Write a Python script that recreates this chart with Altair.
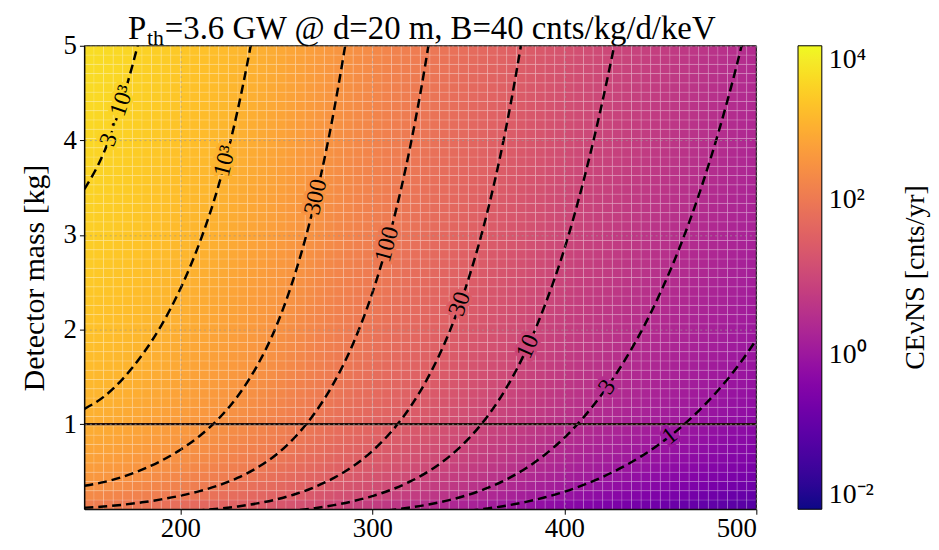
import altair as alt
import numpy as np
import pandas as pd

SERIF = "Liberation Serif"

# ---- data -----------------------------------------------------------------
# threshold columns (left edges, width 5) and log10 of the CEvNS rate
# [counts / kg / yr] at the centre of each column
col_left = list(range(150, 500, 5))
col_width = 5
log_rate_cells = [2.924, 2.901, 2.875, 2.845, 2.813, 2.779, 2.744, 2.708, 2.671, 2.633,
                  2.594, 2.555, 2.514, 2.473, 2.430, 2.385, 2.339, 2.292, 2.243, 2.193,
                  2.141, 2.088, 2.034, 1.979, 1.925, 1.870, 1.815, 1.760, 1.705, 1.650,
                  1.595, 1.540, 1.485, 1.430, 1.375, 1.320, 1.265, 1.210, 1.156, 1.101,
                  1.047, 0.992, 0.938, 0.884, 0.830, 0.777, 0.724, 0.671, 0.620, 0.570,
                  0.520, 0.471, 0.424, 0.377, 0.332, 0.288, 0.245, 0.202, 0.161, 0.120,
                  0.079, 0.040, 0.001, -0.038, -0.076, -0.113, -0.150, -0.187, -0.223, -0.259]

# detector-mass rows
n_rows = 50
row_edges = np.linspace(0.1, 5.0, n_rows + 1)

# log10 rate sampled every 10 units, used for the iso-count lines
line_x = list(range(150, 501, 10))
log_rate_line = [2.935, 2.890, 2.830, 2.762, 2.690, 2.614, 2.535, 2.452, 2.363, 2.268,
                 2.168, 2.061, 1.952, 1.842, 1.732, 1.622, 1.512, 1.402, 1.292, 1.183,
                 1.074, 0.965, 0.857, 0.750, 0.645, 0.545, 0.447, 0.354, 0.266, 0.181,
                 0.099, 0.020, -0.057, -0.132, -0.205, -0.277]

levels = [1, 3, 10, 30, 100, 300, 1000, 3000]

label_text = ["1", "3", "10", "30", "100", "300", "10³", "3 · 10³"]
label_level = [1, 3, 10, 30, 100, 300, 1000, 3000]
label_x = [455, 422.3, 381, 345.6, 307.7, 270.6, 223.3, 167]
label_m = [0.872, 1.39, 1.82, 2.27, 2.90, 3.40, 3.78, 4.26]
label_angle = [322, 305, 294, 289, 285, 283, 284, 289]

cb_values = [0.01, 1, 100, 10000]

title_main = "P"
title_sub = "th"
title_rest = "=3.6 GW @ d=20 m, B=40 cnts/kg/d/keV"

# ---- tables -----------------------------------------------------------------
cells = []
for x0, lr in zip(col_left, log_rate_cells):
    rate = 10 ** lr
    for j in range(n_rows):
        m0, m1 = float(row_edges[j]), float(row_edges[j + 1])
        cells.append({"x": x0, "x1": x0 + col_width, "m": m0, "m1": m1,
                      "count": rate * (m0 + m1) / 2})
cells_df = pd.DataFrame(cells)

cont = []
for lev in levels:
    for x, lr in zip(line_x, log_rate_line):
        m = lev / 10 ** lr
        if 0.02 <= m <= 20:
            cont.append({"x": x, "m": m, "level": lev})
cont_df = pd.DataFrame(cont)

lab_df = pd.DataFrame({"x": label_x, "m": label_m, "text": label_text,
                       "level": label_level, "angle": label_angle})

# ---- scales / axes ------------------------------------------------------------
W, H = 677, 467
xscale = alt.Scale(domain=[150, 500], nice=False, zero=False)
yscale = alt.Scale(domain=[0.1, 5.0], nice=False, zero=False)
cscale = alt.Scale(type="log", domain=[0.01, 10000], scheme="plasma")
sscale = alt.Scale(type="log", domain=[0.01, 10000], scheme="plasma")

grid_kw = dict(grid=True, gridDash=[2, 3], gridColor="#9a9a9a", gridOpacity=0.8,
               gridWidth=0.8, zindex=1)
xaxis = alt.Axis(values=[200, 300, 400, 500], title=None, labelPadding=1, **grid_kw)
yaxis = alt.Axis(values=[1, 2, 3, 4, 5], title="Detector mass [kg]", titlePadding=14,
                 labelPadding=3, **grid_kw)

X = lambda f: alt.X(f, scale=xscale, axis=xaxis)
Y = lambda f: alt.Y(f, scale=yscale, axis=yaxis)

legend = alt.Legend(
    orient="none", legendX=W + 42, legendY=0, direction="vertical",
    gradientLength=H, gradientThickness=24, values=cb_values,
    labelExpr="datum.value >= 5000 ? '10⁴' : datum.value >= 50 ? '10²' : "
              "datum.value >= 0.5 ? '10⁰' : '10⁻²'",
    labelFont=SERIF, labelFontSize=28, labelColor="black", labelOffset=7,
    labelBaseline="middle", title=None,
    gradientStrokeColor="black", gradientStrokeWidth=1,
)

heat = alt.Chart(cells_df).mark_rect(
    stroke="white", strokeWidth=0.6, strokeOpacity=0.25
).encode(
    x=X("x:Q"), x2="x1:Q", y=Y("m:Q"), y2="m1:Q",
    color=alt.Color("count:Q", scale=cscale, legend=legend),
)

lines = alt.Chart(cont_df).mark_line(
    color="black", strokeWidth=2.5, strokeDash=[9, 5], clip=True,
    interpolate="monotone"
).encode(x=X("x:Q"), y=Y("m:Q"), detail="level:N", order="x:Q")

rule = alt.Chart(pd.DataFrame({"m": [1.0]})).mark_rule(
    color="#1f0d0a", strokeWidth=2.4
).encode(y=Y("m:Q"))

halo = alt.Chart(lab_df).mark_text(
    font=SERIF, fontSize=24, strokeWidth=7, strokeJoin="round", baseline="middle"
).encode(
    x=X("x:Q"), y=Y("m:Q"), text="text:N",
    angle=alt.Angle("angle:Q", scale=None),
    stroke=alt.Stroke("level:Q", scale=sscale, legend=None),
    fill=alt.Fill("level:Q", scale=sscale, legend=None),
)

labels = alt.Chart(lab_df).mark_text(
    font=SERIF, fontSize=24, color="black", baseline="middle"
).encode(
    x=X("x:Q"), y=Y("m:Q"), text="text:N",
    angle=alt.Angle("angle:Q", scale=None),
)

frame = alt.Chart(pd.DataFrame({"a": [0]})).mark_rect(
    fillOpacity=0, stroke="black", strokeWidth=1
).encode(x=alt.value(0), x2=alt.value(W), y=alt.value(0), y2=alt.value(H))

cbtitle = alt.Chart(pd.DataFrame({"t": ["CEνNS [cnts/yr]"]})).mark_text(
    font=SERIF, fontSize=28, angle=270, color="black", baseline="middle"
).encode(text="t:N", x=alt.value(838), y=alt.value(H / 2))

t_main = alt.Chart(pd.DataFrame({"t": [title_main]})).mark_text(
    font=SERIF, fontSize=33, color="black", align="left", baseline="alphabetic"
).encode(text="t:N", x=alt.value(44), y=alt.value(-7))
t_sub = alt.Chart(pd.DataFrame({"t": [title_sub]})).mark_text(
    font=SERIF, fontSize=22, color="black", align="left", baseline="alphabetic"
).encode(text="t:N", x=alt.value(63), y=alt.value(-1))
t_rest = alt.Chart(pd.DataFrame({"t": [title_rest]})).mark_text(
    font=SERIF, fontSize=33, color="black", align="left", baseline="alphabetic"
).encode(text="t:N", x=alt.value(81), y=alt.value(-7))

chart = alt.layer(heat, lines, rule, halo, labels, frame, cbtitle,
                  t_main, t_sub, t_rest).properties(
    width=W, height=H,
    padding={"left": 77, "top": 36, "right": 176, "bottom": 39},
    autosize=alt.AutoSizeParams(type="none"),
).resolve_scale(
    fill="independent", stroke="independent"
).configure_axis(
    labelFont=SERIF, titleFont=SERIF, labelFontSize=27, titleFontSize=30,
    labelColor="black", titleColor="black", domainColor="black", tickColor="black",
    tickSize=5, titleFontWeight="normal",
).configure_view(stroke=None)

chart.save("out.html", embed_options={"renderer": "svg", "actions": False})
